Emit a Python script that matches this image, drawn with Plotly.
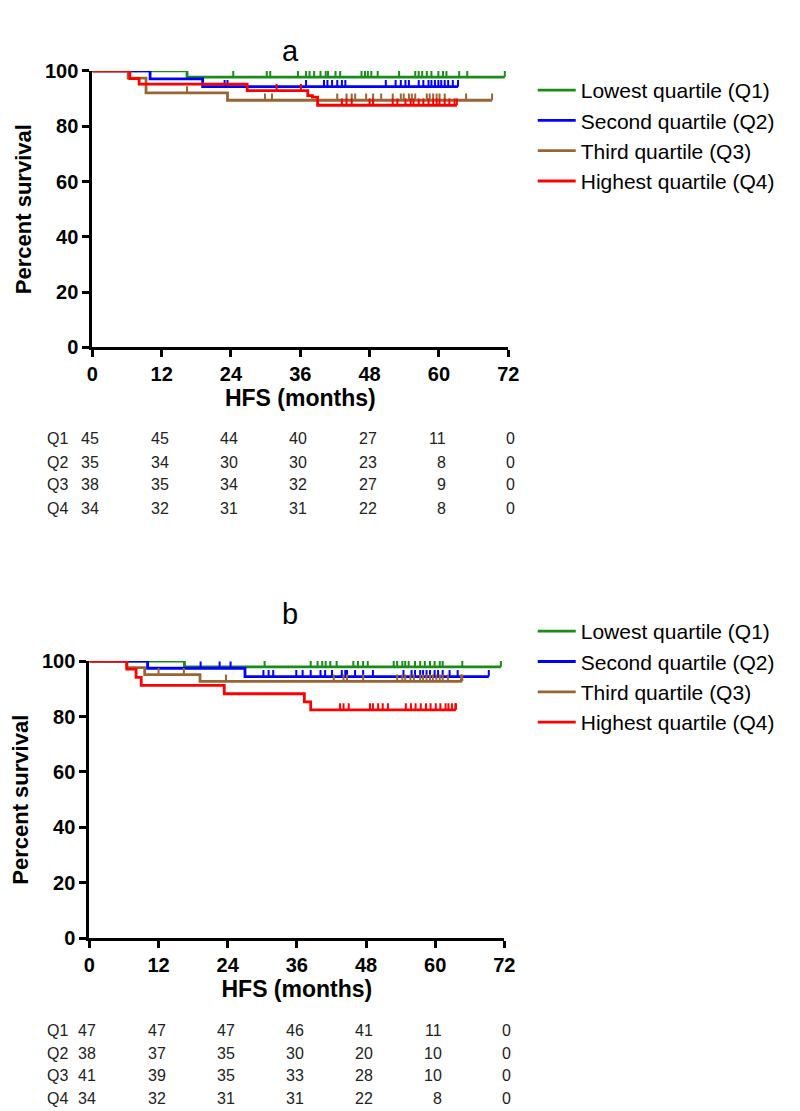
import numpy as np
import plotly.graph_objects as go

# ---------------- data ----------------
MONTH_TICKS = [0, 12, 24, 36, 48, 60, 72]
SURV_TICKS = [0, 20, 40, 60, 80, 100]
GROUPS = ["Q1", "Q2", "Q3", "Q4"]
LEGEND_NAMES = ["Lowest quartile (Q1)", "Second quartile (Q2)",
                "Third quartile (Q3)", "Highest quartile (Q4)"]
COLORS = ["#1a8c1a", "#0000ff", "#996633", "#ff0000"]

# Panel a : event times (months), survival after each event (%), last follow-up, censor marks
a_q1_times = [16.4]
a_q1_surv = [97.8]
a_q1_end = 71.4
a_q1_cens = [11.9, 24.4, 30.2, 30.8, 35.6, 37.0, 37.6, 38.4, 39.5, 40.4, 40.8, 42.1, 42.9,
             46.6, 47.2, 47.7, 48.3, 49.4, 53.1, 55.9, 56.5, 57.1, 57.9, 58.7, 59.9, 60.7,
             61.3, 63.5, 64.9, 71.4]
a_q2_times = [10.0, 19.1]
a_q2_surv = [97.1, 94.3]
a_q2_end = 63.3
a_q2_cens = [8.8, 22.9, 23.4, 37.0, 40.1, 40.7, 41.5, 42.4, 43.2, 43.8, 50.8, 52.5, 53.4,
             54.2, 54.8, 56.5, 57.3, 58.2, 58.7, 59.3, 59.9, 60.4, 61.0, 61.6, 62.4, 63.3]
a_q3_times = [6.2, 9.3, 23.4]
a_q3_surv = [97.4, 92.1, 89.4]
a_q3_end = 69.2
a_q3_cens = [16.4, 29.9, 31.1, 42.4, 44.0, 44.9, 45.5, 47.4, 48.6, 50.0, 52.0, 53.4, 53.9,
             54.8, 55.3, 55.9, 57.9, 58.4, 59.0, 59.6, 60.1, 61.0, 64.7, 69.2]
a_q4_times = [6.5, 8.1, 26.8, 37.3, 38.1, 39.0]
a_q4_surv = [97.2, 95.2, 92.9, 91.1, 90.5, 87.6]
a_q4_end = 63.1
a_q4_cens = [31.9, 36.1, 43.2, 44.0, 44.9, 48.0, 48.6, 52.0, 52.8, 54.2, 55.1, 55.6, 56.5,
             57.3, 58.2, 59.0, 59.6, 60.1, 61.0, 61.8, 62.7, 63.1]

# Panel b
b_q1_times = [16.5]
b_q1_surv = [97.9]
b_q1_end = 71.4
b_q1_cens = [30.4, 38.4, 39.6, 40.4, 41.0, 41.8, 42.9, 45.8, 46.6, 47.5, 48.3, 52.8, 53.4,
             54.3, 54.8, 55.4, 56.5, 57.4, 58.2, 59.1, 59.9, 60.8, 61.3, 64.7, 71.4]
b_q2_times = [10.1, 27.0]
b_q2_surv = [97.4, 94.4]
b_q2_end = 69.3
b_q2_cens = [8.8, 19.3, 22.6, 24.5, 30.2, 31.1, 31.9, 35.9, 37.0, 38.4, 40.1, 40.9, 42.1,
             43.8, 44.4, 44.7, 46.1, 47.5, 49.2, 54.5, 55.9, 56.5, 57.4, 57.9, 58.5, 59.1,
             59.9, 60.5, 61.3, 62.5, 63.9, 69.3]
b_q3_times = [6.5, 9.6, 19.2]
b_q3_surv = [97.6, 95.1, 92.7]
b_q3_end = 64.7
b_q3_cens = [12.0, 16.4, 23.7, 42.4, 44.1, 44.7, 47.5, 53.4, 54.3, 54.8, 55.7, 56.3, 57.4,
             57.9, 58.5, 59.1, 59.6, 60.2, 60.8, 61.3, 62.2, 64.5, 64.7]
b_q4_times = [6.5, 8.1, 9.0, 23.4, 37.3, 38.4]
b_q4_surv = [97.1, 94.1, 91.2, 88.2, 85.3, 82.4]
b_q4_end = 63.6
b_q4_cens = [43.5, 44.1, 45.0, 48.7, 49.2, 50.1, 50.9, 51.8, 54.9, 55.8, 56.6, 57.5, 58.4,
             59.2, 60.1, 60.9, 61.8, 62.3, 62.9, 63.5, 63.6]

# Numbers at risk
risk_a_q1 = [45, 45, 44, 40, 27, 11, 0]
risk_a_q2 = [35, 34, 30, 30, 23, 8, 0]
risk_a_q3 = [38, 35, 34, 32, 27, 9, 0]
risk_a_q4 = [34, 32, 31, 31, 22, 8, 0]
risk_b_q1 = [47, 47, 47, 46, 41, 11, 0]
risk_b_q2 = [38, 37, 35, 30, 20, 10, 0]
risk_b_q3 = [41, 39, 35, 33, 28, 10, 0]
risk_b_q4 = [34, 32, 31, 31, 22, 8, 0]

PANEL_A = [(a_q1_times, a_q1_surv, a_q1_end, a_q1_cens),
           (a_q2_times, a_q2_surv, a_q2_end, a_q2_cens),
           (a_q3_times, a_q3_surv, a_q3_end, a_q3_cens),
           (a_q4_times, a_q4_surv, a_q4_end, a_q4_cens)]
PANEL_B = [(b_q1_times, b_q1_surv, b_q1_end, b_q1_cens),
           (b_q2_times, b_q2_surv, b_q2_end, b_q2_cens),
           (b_q3_times, b_q3_surv, b_q3_end, b_q3_cens),
           (b_q4_times, b_q4_surv, b_q4_end, b_q4_cens)]
RISK_A = [risk_a_q1, risk_a_q2, risk_a_q3, risk_a_q4]
RISK_B = [risk_b_q1, risk_b_q2, risk_b_q3, risk_b_q4]

# ---------------- layout constants (pixels) ----------------
W, H = 800, 1111
FONT = "Arial, Liberation Sans, sans-serif"
TICK_UP = 2.4  # height of censor ticks in survival units


def px(v):
    return v / W


def py(v):
    return 1 - v / H


fig = go.Figure()


def add_panel(data, xa, ya, legend_id):
    for i, (times, surv, end, cens) in enumerate(data):
        xs = [0] + list(times) + [end]
        ys = [100] + list(surv) + [surv[-1]]
        fig.add_trace(go.Scatter(
            x=xs, y=ys, mode="lines", line=dict(shape="hv", width=2.8, color=COLORS[i]),
            name=LEGEND_NAMES[i], legend=legend_id, xaxis=xa, yaxis=ya,
            cliponaxis=False, hoverinfo="skip"))
        t_arr = np.array([0] + list(times))
        s_arr = np.array([100] + list(surv))
        c = np.array(cens)
        idx = np.searchsorted(t_arr, c, side="right") - 1
        lev = s_arr[idx]
        fig.add_trace(go.Scatter(
            x=c, y=lev, mode="markers", marker=dict(size=1, opacity=0, color=COLORS[i]),
            error_y=dict(type="data", symmetric=False, array=[TICK_UP] * len(c),
                         arrayminus=[0] * len(c), width=0, thickness=2, color=COLORS[i]),
            showlegend=False, xaxis=xa, yaxis=ya, cliponaxis=False, hoverinfo="skip"))


add_panel(PANEL_A, "x", "y", "legend")
add_panel(PANEL_B, "x2", "y2", "legend2")

axis_common = dict(showline=True, linewidth=3, linecolor="black", ticks="outside",
                   ticklen=7, tickwidth=3, tickcolor="black", showgrid=False,
                   zeroline=False,
                   tickfont=dict(family=FONT, size=20, color="black", weight="bold"))

title_font = dict(family=FONT, size=23, color="black", weight="bold")
ytitle_font = dict(family=FONT, size=22, color="black", weight="bold")
legend_font = dict(family=FONT, size=21, color="black")

fig.update_layout(
    width=W, height=H, margin=dict(l=0, r=0, t=0, b=0),
    paper_bgcolor="white", plot_bgcolor="white",
    font=dict(family=FONT, color="black"),
    xaxis=dict(domain=[px(80), px(505)], range=[0, 72], tickvals=MONTH_TICKS,
               anchor="y", title=dict(text="HFS (months)", font=title_font, standoff=6),
               **axis_common),
    yaxis=dict(domain=[py(335), py(53)], range=[0, 100], tickvals=SURV_TICKS,
               anchor="x", title=dict(text="Percent survival", font=ytitle_font, standoff=8),
               **axis_common),
    xaxis2=dict(domain=[px(77), px(501)], range=[0, 72], tickvals=MONTH_TICKS,
                anchor="y2", title=dict(text="HFS (months)", font=title_font, standoff=6),
                **axis_common),
    yaxis2=dict(domain=[py(938), py(655)], range=[0, 100], tickvals=SURV_TICKS,
                anchor="x2", title=dict(text="Percent survival", font=ytitle_font, standoff=8),
                **axis_common),
    legend=dict(x=px(530), y=py(52), xanchor="left", yanchor="top",
                font=legend_font, bgcolor="rgba(0,0,0,0)",
                tracegroupgap=0, itemwidth=38),
    legend2=dict(x=px(530), y=py(604), xanchor="left", yanchor="top",
                 font=legend_font, bgcolor="rgba(0,0,0,0)",
                 tracegroupgap=0, itemwidth=38),
    showlegend=True,
)

annotations = []
# panel titles
annotations.append(dict(text="a", x=px(282), y=py(14), xref="paper", yref="paper",
                        showarrow=False, font=dict(family=FONT, size=29, color="black")))
annotations.append(dict(text="b", x=px(282), y=py(607), xref="paper", yref="paper",
                        showarrow=False, font=dict(family=FONT, size=29, color="black")))

# number-at-risk tables
table_font = dict(family=FONT, size=16, color="#222222")
for risk, xref, rows_y in [(RISK_A, "x", [428, 452, 475, 499]),
                           (RISK_B, "x2", [1032, 1055, 1078, 1101])]:
    for g, vals, yy in zip(GROUPS, risk, rows_y):
        annotations.append(dict(text=g, x=px(32), y=py(yy), xref="paper", yref="paper",
                                xanchor="left", yanchor="middle", showarrow=False, font=table_font))
        for m, v in zip(MONTH_TICKS, vals):
            annotations.append(dict(text=str(v), x=m, y=py(yy), xref=xref, yref="paper",
                                    xanchor="right", yanchor="middle", xshift=9,
                                    showarrow=False, font=table_font))

fig.update_layout(annotations=annotations)
fig.write_html("out.html")
